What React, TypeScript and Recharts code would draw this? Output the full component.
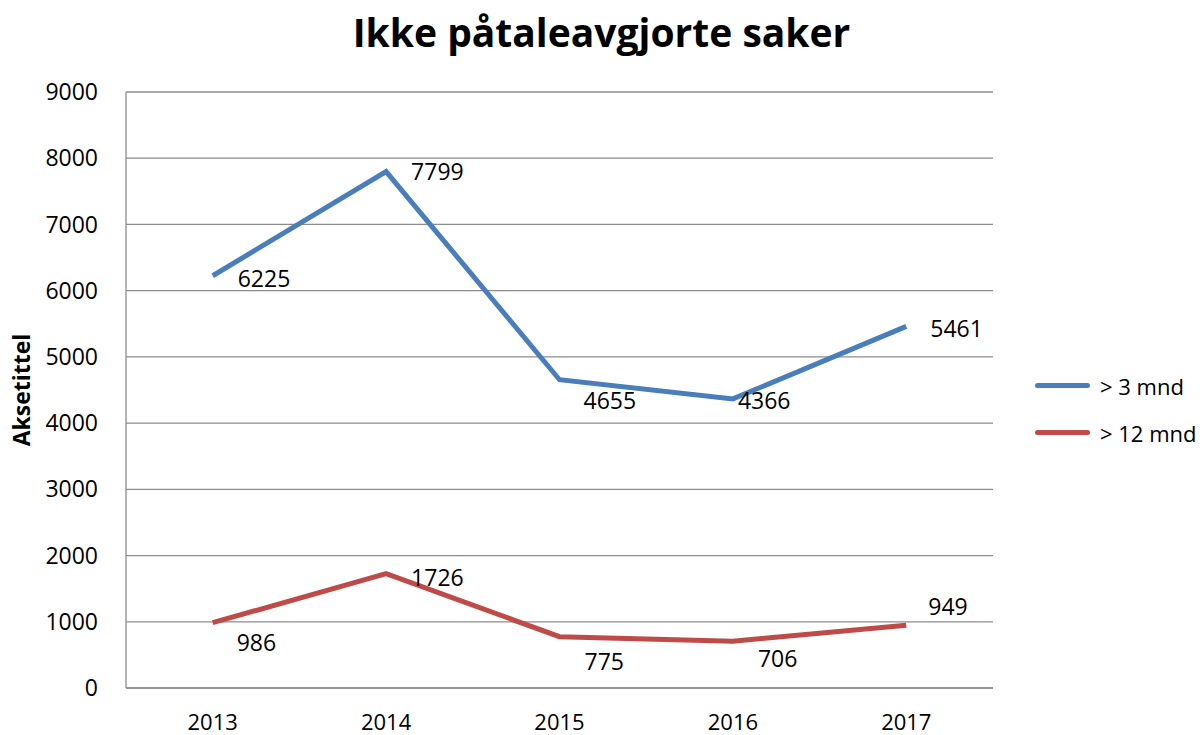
import React from 'react';
import { LineChart, Line, XAxis, YAxis, CartesianGrid, Legend, Label } from 'recharts';

// data
const years = ['2013', '2014', '2015', '2016', '2017'];
const over3 = [6225, 7799, 4655, 4366, 5461];
const over12 = [986, 1726, 775, 706, 949];
const yTicks = [0, 1000, 2000, 3000, 4000, 5000, 6000, 7000, 8000, 9000];

const data = years.map((y, i) => ({ year: y, a: over3[i], b: over12[i] }));

// where each value label sits relative to its point (Excel placement)
const blueLabelOffset = [[25, 2], [25, -1], [24, 20], [5, 1], [24, 2]];
const redLabelOffset = [[24, 19], [25, 3], [25, 24], [25, 17], [22, -19]];

const FONT = '"Open Sans", sans-serif';
const BLUE = '#4a7ebb';
const RED = '#be4b48';

const makeLabel = (offsets: number[][]) => (props: any) => {
  const { x, y, value, index } = props;
  const [dx, dy] = offsets[index];
  return (
    <text x={x + dx} y={y + dy} dominantBaseline="central" fontSize={23} fontFamily={FONT} fill="#000">
      {value}
    </text>
  );
};

const LegendBox = () => (
  <div style={{ fontFamily: FONT, fontSize: 22 }}>
    {[['> 3 mnd', BLUE], ['> 12 mnd', RED]].map(([name, c]) => (
      <div key={name} style={{ display: 'flex', alignItems: 'center', height: 47 }}>
        <div style={{ width: 55, height: 5, borderRadius: 3, background: c, marginRight: 10 }} />
        <span>{name}</span>
      </div>
    ))}
  </div>
);

export default function App() {
  return (
    <div style={{ position: 'absolute', left: 0, top: 0, width: 1203, height: 735, background: '#fff' }}>
      <div style={{ position: 'absolute', left: 0, width: 1203, top: 5, textAlign: 'center', fontFamily: FONT, fontWeight: 'bold', fontSize: 39 }}>
        Ikke påtaleavgjorte saker
      </div>
      <LineChart width={1203} height={735} data={data} margin={{ top: 92, right: 42, bottom: 17, left: 66 }}>
        <CartesianGrid vertical={false} stroke="#8c8c8c" strokeWidth={1.3} />
        <XAxis
          dataKey="year"
          padding={{ left: 86.7, right: 86.7 }}
          height={30}
          tickLine={false}
          axisLine={{ stroke: '#8c8c8c', strokeWidth: 1.3 }}
          tick={{ fill: '#000', fontSize: 22, fontFamily: FONT }}
          tickMargin={20}
        />
        <YAxis
          width={60}
          domain={[0, 9000]}
          ticks={yTicks}
          interval={0}
          tickLine={false}
          axisLine={{ stroke: '#8c8c8c', strokeWidth: 1.3 }}
          tick={{ fill: '#000', fontSize: 23, fontFamily: FONT }}
          tickMargin={22}
        >
          <Label
            value="Aksetittel"
            angle={-90}
            position="insideLeft"
            offset={-44}
            style={{ fontFamily: FONT, fontWeight: 'bold', fontSize: 23, fill: '#000', textAnchor: 'middle' }}
          />
        </YAxis>
        <Legend
          layout="vertical"
          align="right"
          verticalAlign="top"
          content={<LegendBox />}
          wrapperStyle={{ left: 1035, top: 362, width: 168 }}
        />
        <Line
          dataKey="a"
          name="> 3 mnd"
          stroke={BLUE}
          strokeWidth={5}
          dot={false}
          isAnimationActive={false}
          label={makeLabel(blueLabelOffset)}
        />
        <Line
          dataKey="b"
          name="> 12 mnd"
          stroke={RED}
          strokeWidth={5}
          dot={false}
          isAnimationActive={false}
          label={makeLabel(redLabelOffset)}
        />
      </LineChart>
    </div>
  );
}
